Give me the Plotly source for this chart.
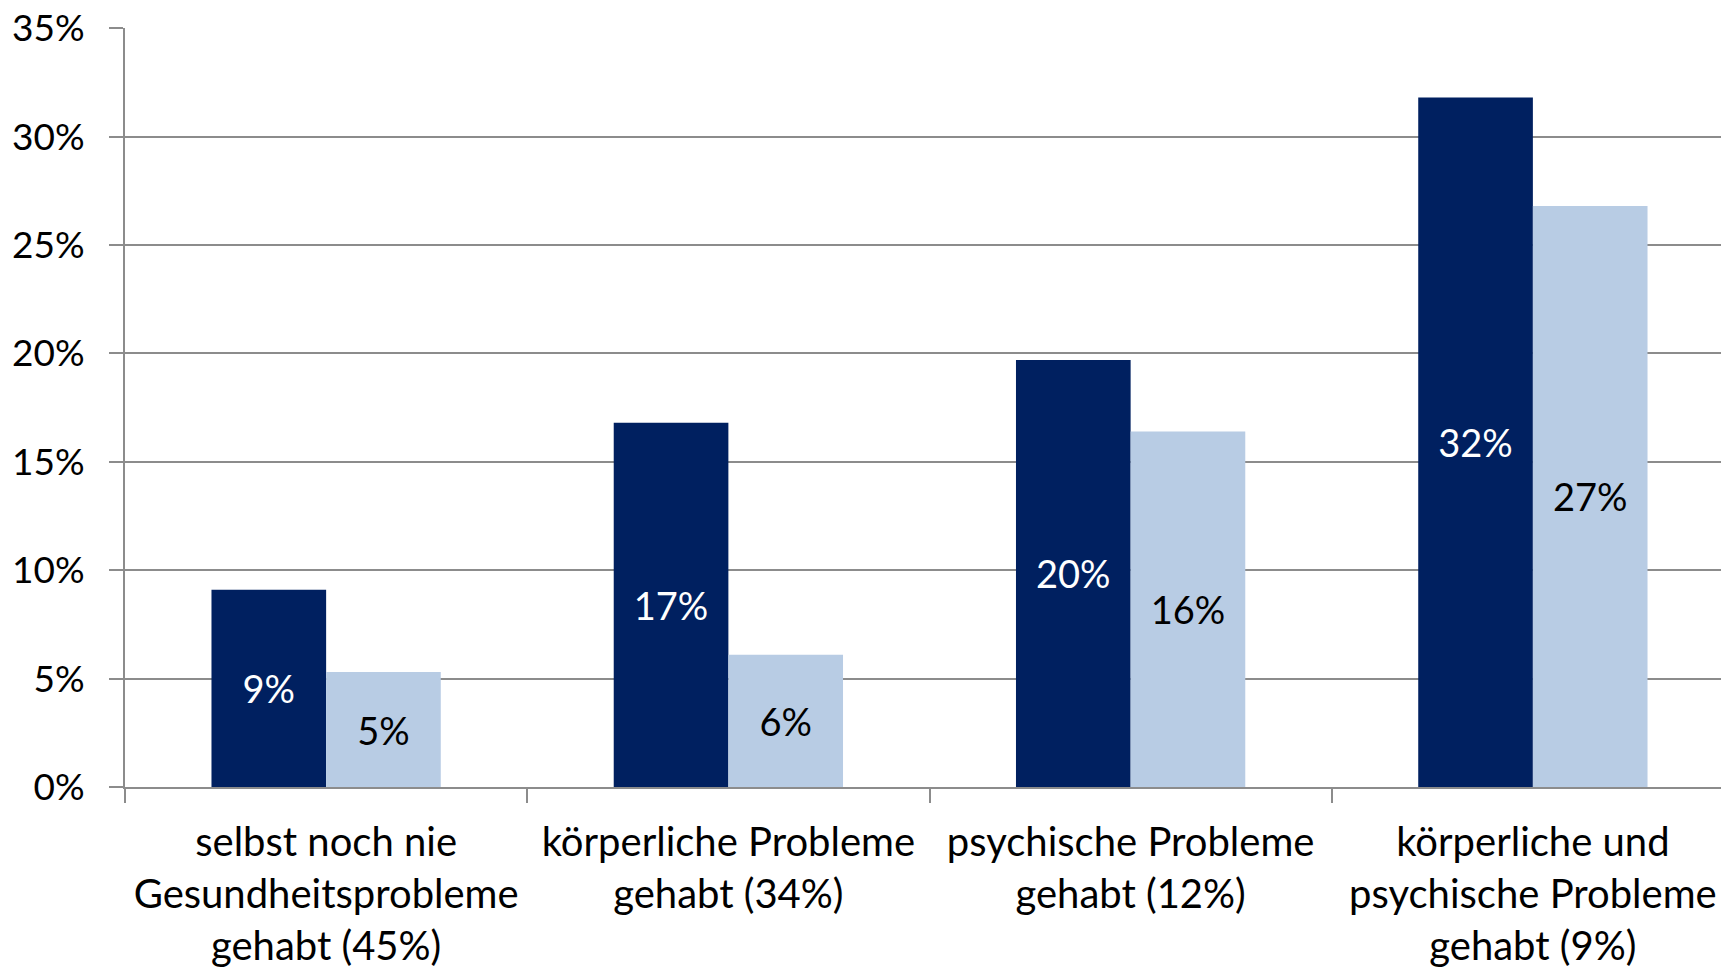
import plotly.graph_objects as go

categories = [
    "selbst noch nie<br>Gesundheitsprobleme<br>gehabt (45%)",
    "körperliche Probleme<br>gehabt (34%)",
    "psychische Probleme<br>gehabt (12%)",
    "körperliche und<br>psychische Probleme<br>gehabt (9%)",
]
series_dark = [0.091, 0.168, 0.197, 0.318]
series_light = [0.053, 0.061, 0.164, 0.268]
y_ticks = [0, 0.05, 0.10, 0.15, 0.20, 0.25, 0.30, 0.35]

FONT = "Lato"
GRID = "#8c8c8c"

fig = go.Figure()
fig.add_trace(go.Bar(
    x=categories, y=series_dark, marker=dict(color="#002060", line=dict(width=0)),
    texttemplate="%{y:.0%}", textposition="inside", insidetextanchor="middle",
    textfont=dict(color="white", size=38, family=FONT), textangle=0,
    showlegend=False, hoverinfo="skip",
))
fig.add_trace(go.Bar(
    x=categories, y=series_light, marker=dict(color="#B8CCE4", line=dict(width=0)),
    texttemplate="%{y:.0%}", textposition="inside", insidetextanchor="middle",
    textfont=dict(color="black", size=38, family=FONT), textangle=0,
    showlegend=False, hoverinfo="skip",
))

fig.update_layout(
    width=1729, height=967,
    margin=dict(l=117, r=3, t=20, b=188),
    paper_bgcolor="white", plot_bgcolor="white",
    barmode="group", bargap=0.43, bargroupgap=0,
    uniformtext=dict(mode=False),
    font=dict(family=FONT, color="black", size=38),
)
fig.update_yaxes(
    range=[0, 0.3501], tickvals=y_ticks, tickformat=".0%",
    showgrid=True, gridcolor=GRID, gridwidth=2,
    showline=True, linecolor=GRID, linewidth=2,
    ticks="outside", ticklen=14, tickcolor=GRID, tickwidth=2,
    tickfont=dict(size=37, family=FONT, color="black"),
    ticklabelstandoff=17, zeroline=False,
    automargin=False, ticklabeloverflow="allow",
)
fig.update_xaxes(
    showline=True, linecolor=GRID, linewidth=2,
    ticks="outside", tickson="boundaries", ticklen=14, tickcolor=GRID, tickwidth=2,
    tickfont=dict(size=40, family=FONT, color="black"),
    ticklabelstandoff=19, showgrid=False,
    automargin=False, ticklabeloverflow="allow",
)

fig.write_html("out.html")
